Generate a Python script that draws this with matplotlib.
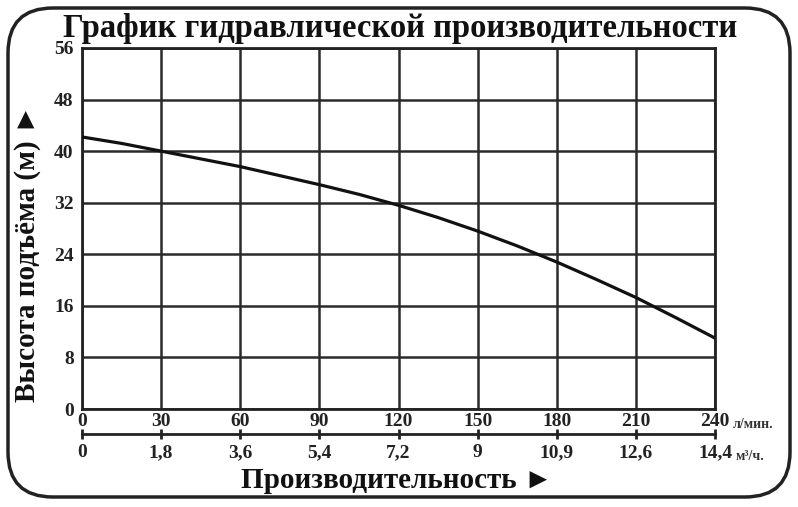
import matplotlib.pyplot as plt
from matplotlib.patches import FancyBboxPatch

# flow in l/min and head in m
flow_lpm = [0, 15, 30, 45, 60, 75, 90, 105, 120, 135, 150, 165, 180, 195, 210, 225, 240]
head_m = [42.2, 41.2, 40.0, 38.8, 37.6, 36.2, 34.8, 33.3, 31.6, 29.7, 27.6, 25.3, 22.8, 20.1, 17.3, 14.2, 11.0]

lpm_ticks = [0, 30, 60, 90, 120, 150, 180, 210, 240]
m3h_labels = ['0', '1,8', '3,6', '5,4', '7,2', '9', '10,9', '12,6', '14,4']
head_ticks = [0, 8, 16, 24, 32, 40, 48, 56]

serif = ['Liberation Serif', 'DejaVu Serif']
serif_sym = ['Liberation Serif', 'DejaVu Sans']

W, H = 798, 507
fig = plt.figure(figsize=(W / 100, H / 100), dpi=100)

# plot area in pixels: x 82..715, y 48..409
left, right, top, bottom = 82, 715, 48, 409
ax = fig.add_axes([left / W, 1 - bottom / H, (right - left) / W, (bottom - top) / H])
ax.plot(flow_lpm, head_m, color='#111111', lw=2.3, solid_capstyle='butt', zorder=3)

ax.set_xlim(0, 240)
ax.set_ylim(0, 56)
ax.set_xticks(lpm_ticks)
ax.set_yticks(head_ticks)
ax.set_xticklabels([str(v) for v in lpm_ticks], fontfamily=serif, fontweight='bold', fontsize=14)
ax.set_yticklabels([str(v) for v in head_ticks], fontfamily=serif, fontweight='bold', fontsize=14)
ax.tick_params(axis='both', length=0, colors='#222222')
ax.tick_params(axis='x', pad=3)
ax.tick_params(axis='y', pad=6)
ax.grid(True, color='#2a2a2a', lw=1.8)
for s in ax.spines.values():
    s.set_linewidth(2)
    s.set_color('#222222')

# second scale in m3/h
sec = ax.secondary_xaxis(-(434 - bottom) / (bottom - top))
sec.set_alignment('bottom')
sec.set_xticks(lpm_ticks)
sec.set_xticklabels(m3h_labels, fontfamily=serif, fontweight='bold', fontsize=14)
sec.tick_params(direction='inout', length=7, width=2, colors='#222222', pad=4)
sec.spines['bottom'].set_linewidth(2)
sec.spines['bottom'].set_color('#222222')

# units
fig.text(733 / W, 1 - 424 / H, 'л/мин.', fontfamily=serif, fontsize=10, fontweight='bold',
         color='#333333', va='center', ha='left')
fig.text(736 / W, 1 - 457 / H, 'м³/ч.', fontfamily=serif, fontsize=10, fontweight='bold',
         color='#333333', va='center', ha='left')

# titles
fig.text(400 / W, 1 - 37 / H, 'График гидравлической производительности', fontfamily=serif,
         fontweight='bold', fontsize=23.5, ha='center', va='baseline', color='#111111')
fig.text(397 / W, 1 - 481 / H, 'Производительность ►', fontfamily=serif_sym,
         fontweight='bold', fontsize=21, ha='center', va='center', color='#111111')
fig.text(28 / W, 1 - 253 / H, 'Высота подъёма (м) ►', fontfamily=serif_sym,
         fontweight='bold', fontsize=21, ha='center', va='center', rotation=90, color='#111111')

# rounded frame
frame = FancyBboxPatch((0.08, 0.10), 7.82, 4.89, boxstyle='round,pad=0,rounding_size=0.45',
                       transform=fig.dpi_scale_trans, fill=False, lw=2.5, ec='#222222')
fig.add_artist(frame)

fig.savefig('out.png', dpi=100)
